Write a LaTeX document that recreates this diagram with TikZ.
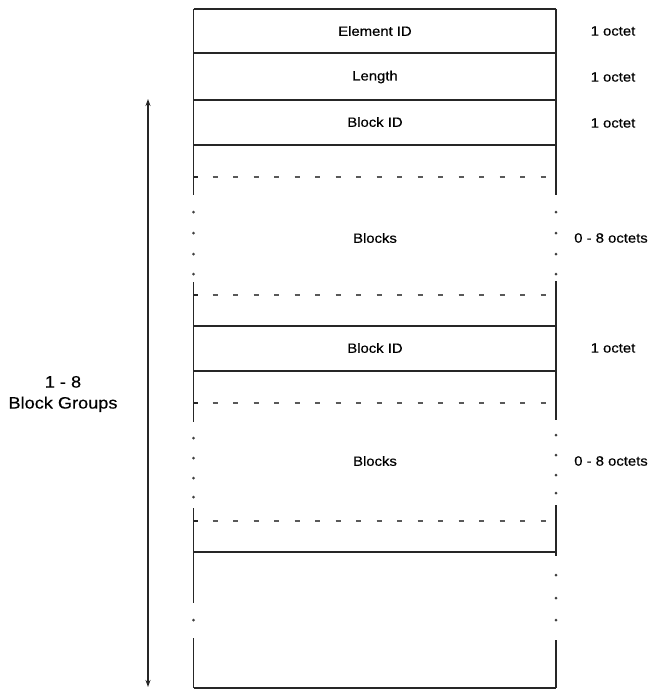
\documentclass[tikz,border=0pt]{standalone}
\usepackage{fontspec}
\setmainfont{Liberation Sans}[FakeStretch=1.1,FakeBold=0.4]
\usetikzlibrary{arrows.meta}
\begin{document}
\begin{tikzpicture}[x=1pt,y=-1pt,
  fld/.style={font=\fontsize{13.5}{16}\selectfont, inner sep=0pt},
  side/.style={font=\fontsize{13.5}{16}\selectfont, inner sep=0pt},
  grp/.style={font=\fontsize{16.5}{21}\selectfont, align=center, inner sep=0pt},
  solidline/.style={line width=1.1pt, draw=black!85},
  dashline/.style={line width=1.1pt, draw=black!65, dash pattern=on 5pt off 15.5pt},
  dotmark/.style={fill=black!75}]
\useasboundingbox (0,0) rectangle (655,689);
\def\L{193.5}
\def\R{556}
% horizontal solid lines
\foreach \y in {9,53,100,145,326,371,552,688}
  \draw[solidline] (\L,\y) -- (\R,\y);
% dashed lines
\foreach \y in {177,295,403,521}{
  \draw[dashline] (212.5,\y) -- (546,\y);
  \draw[solidline] (\L,\y) -- (\L+4,\y);
}
% left edge
\draw[solidline] (\L,9) -- (\L,195);
\draw[solidline] (\L,282) -- (\L,422);
\draw[solidline] (\L,508) -- (\L,603);
\draw[solidline] (\L,638) -- (\L,688);
\foreach \y in {212,233,254,274,438,458,478,497,620}
  \fill[dotmark] (\L,\y) circle (1.5);
% right edge
\draw[solidline] (\R,9) -- (\R,195);
\draw[solidline] (\R,281) -- (\R,420);
\draw[solidline] (\R,505) -- (\R,556);
\draw[solidline] (\R,640) -- (\R,688);
\foreach \y in {212,233,254,274,435,455,475,493,575,598,620}
  \fill[dotmark] (\R,\y) circle (1.5);
% field labels
\node[fld] (eid) at (375,31) {Element ID};
\node[fld] (len) at (375,77) {Length};
\node[fld] (bid1) at (375,122) {Block ID};
\node[fld] (blk1) at (375,238) {Blocks};
\node[fld] (bid2) at (375,348) {Block ID};
\node[fld] (blk2) at (375,461) {Blocks};
% side labels
\node[side] (s1) at (613,31) {1 octet};
\node[side] (s2) at (613,77) {1 octet};
\node[side] (s3) at (613,123) {1 octet};
\node[side] (s4) at (611,238) {0 - 8 octets};
\node[side] (s5) at (613,348) {1 octet};
\node[side] (s6) at (611,461) {0 - 8 octets};
% group arrow
\coordinate (atop) at (148,99);
\coordinate (abot) at (148,687);
\draw[line width=1.2pt, draw=black!85, {Stealth[length=7pt,width=5pt]}-{Stealth[length=7pt,width=5pt]}] (atop) -- (abot);
\node[grp] (grplabel) at (63,394) {1 - 8\\Block Groups};
\end{tikzpicture}
\end{document}
